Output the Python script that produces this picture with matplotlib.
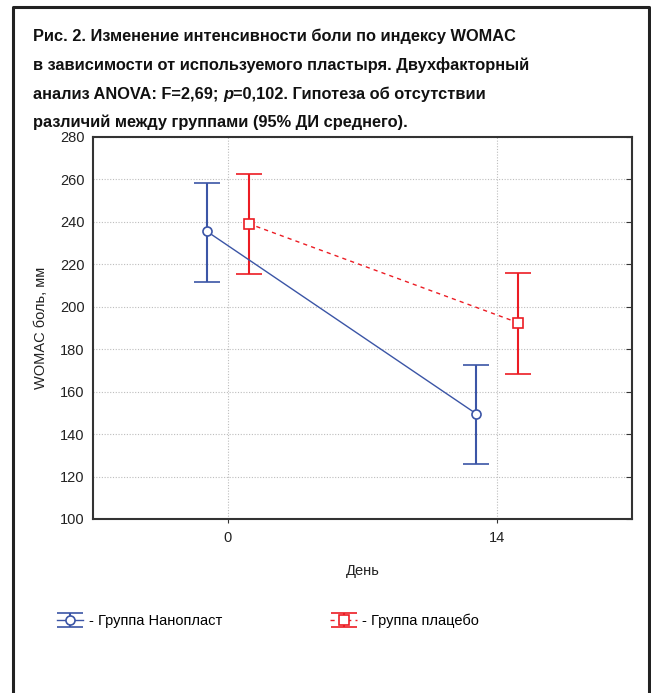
import numpy as np
import matplotlib
matplotlib.use("Agg")
import matplotlib.pyplot as plt
from matplotlib.lines import Line2D

# =====================================================
# Datos
# =====================================================

days = ["0", "14"]

nano_mean = [235.5, 149.5]
nano_low = [211.5, 125.8]
nano_high = [258.5, 172.6]

plac_mean = [239.2, 192.5]
plac_low = [215.5, 168.3]
plac_high = [262.4, 215.9]

title_lines = [
    [("Рис. 2. Изменение интенсивности боли по индексу WOMAC", "normal")],
    [("в зависимости от используемого пластыря. Двухфакторный", "normal")],
    [("анализ ANOVA: F=2,69; ", "normal"), ("p", "italic"),
     ("=0,102. Гипотеза об отсутствии", "normal")],
    [("различий между группами (95% ДИ среднего).", "normal")],
]

blue = "#3b55a6"
red = "#ec1c24"

plt.rcParams["font.family"] = ["Liberation Sans", "DejaVu Sans"]

# =====================================================
# Figura
# =====================================================

fig = plt.figure(figsize=(6.51, 6.93), dpi=100)
ax = fig.add_axes([93 / 651, 1 - 519 / 693, 539 / 651, 382 / 693])

x = np.arange(len(days))
off = 0.077

nano_err = [np.array(nano_mean) - np.array(nano_low),
            np.array(nano_high) - np.array(nano_mean)]
plac_err = [np.array(plac_mean) - np.array(plac_low),
            np.array(plac_high) - np.array(plac_mean)]

h1 = ax.errorbar(x - off, nano_mean, yerr=nano_err, color=blue,
                 linewidth=1.0, elinewidth=1.5, capsize=9.5, capthick=1.5,
                 marker="o", markersize=6.5, markerfacecolor="white",
                 markeredgecolor=blue, markeredgewidth=1.2, zorder=3)
h2 = ax.errorbar(x + off, plac_mean, yerr=plac_err, color=red,
                 linewidth=1.0, linestyle=(0, (3, 3)), elinewidth=1.5,
                 capsize=9.5, capthick=1.5,
                 marker="s", markersize=6.5, markerfacecolor="white",
                 markeredgecolor=red, markeredgewidth=1.2, zorder=3)
h2[2][0].set_linestyle("-")

ax.set_xlim(-0.5, 1.5)
ax.set_ylim(100, 280)
ax.set_xticks(x)
ax.set_xticklabels(days)
ax.set_yticks(np.arange(100, 281, 20))

ax.grid(True, linestyle=(0, (1, 1.5)), color="#bdbdbd", linewidth=0.8)
ax.set_axisbelow(True)

for s in ax.spines.values():
    s.set_color("#333333")
    s.set_linewidth(1.5)

ax.tick_params(axis="y", which="both", left=False, right=True,
               direction="in", length=4, color="#333333",
               labelsize=10.5, labelcolor="#222222", pad=6)
ax.tick_params(axis="x", direction="out", length=3, color="#333333",
               labelsize=10.5, labelcolor="#222222", pad=6)

ax.set_xlabel("День", fontsize=10.5, color="#222222", labelpad=13)
ax.set_ylabel("WOMAC боль, мм", fontsize=10.5, color="#222222", labelpad=9)

# =====================================================
# Titulo (linea por linea) y leyenda
# =====================================================

baselines = [41.5, 70, 98.5, 127]
renderer = fig.canvas.get_renderer()
for parts, yb in zip(title_lines, baselines):
    xpos = 33
    for txt, style in parts:
        t = fig.text(xpos / 651, 1 - yb / 693, txt, ha="left", va="baseline",
                     fontsize=11.8, fontweight="bold", fontstyle=style,
                     color="#111111")
        xpos += t.get_window_extent(renderer).width

fig.legend([h1, h2], ["- Группа Нанопласт", "- Группа плацебо"],
           loc="center left", bbox_to_anchor=(44 / 651, 1 - 621 / 693),
           ncol=2, frameon=False, fontsize=10.5, handlelength=1.8,
           handletextpad=0.4, columnspacing=7.4)

# marco exterior
fig.add_artist(Line2D([13 / 651, 13 / 651, 649 / 651, 649 / 651],
                      [0, 1 - 7 / 693, 1 - 7 / 693, 0],
                      transform=fig.transFigure, color="#222222",
                      linewidth=2.2))

fig.savefig("out.png", dpi=100)
